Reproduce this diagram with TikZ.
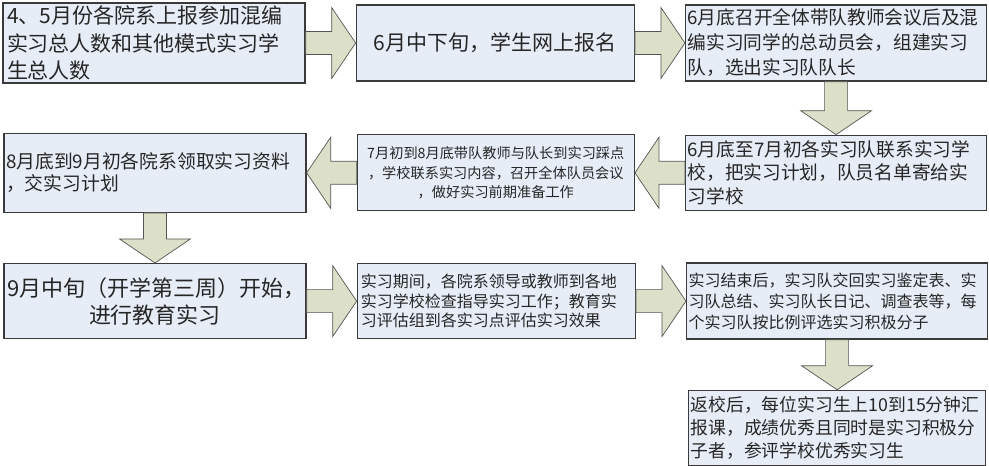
\documentclass[tikz,border=0pt]{standalone}
\usepackage{fontspec}
\setmainfont{Noto Sans CJK SC}
\usepackage{xcolor}
\usepackage{tikz}
\usetikzlibrary{calc,positioning}
\definecolor{boxfill}{HTML}{E7EDF7}
\definecolor{boxline}{HTML}{3A3A3A}
\definecolor{arrowfill}{HTML}{DDE0C8}
\definecolor{arrowline}{HTML}{555555}
\tikzset{
  stepbox/.style={
    draw=boxline,
    fill=boxfill,
    line width=1.3pt,
    align=left,
    inner xsep=3pt,
    inner ysep=0pt,
    text=black!85
  },
  centerbox/.style={
    stepbox,
    align=center
  },
  blockarrow/.style={
    draw=arrowline,
    fill=arrowfill,
    line width=0.7pt,
    line join=miter,
    to path={
      ($(\tikztostart)!11.5pt!90:(\tikztotarget)$)
      -- ($(\tikztotarget)!24pt!(\tikztostart)!11.5pt!-90:(\tikztostart)$)
      -- ($(\tikztotarget)!24pt!(\tikztostart)!35.5pt!-90:(\tikztostart)$)
      -- (\tikztotarget)
      -- ($(\tikztotarget)!24pt!(\tikztostart)!35.5pt!90:(\tikztostart)$)
      -- ($(\tikztotarget)!24pt!(\tikztostart)!11.5pt!90:(\tikztostart)$)
      -- ($(\tikztostart)!11.5pt!-90:(\tikztotarget)$)
      -- cycle
    }
  }
}

\begin{document}
\begin{tikzpicture}[x=1pt, y=-1pt, node distance=50pt]
    \useasboundingbox (0,0) rectangle (989,466);

    % first row
    \node[stepbox, text width=294pt, minimum height=80pt, inner xsep=4pt,
          font=\fontsize{21}{27.5}\selectfont] (report) at (154,43) {
        4、5月份各院系上报参加混编\\
        实习总人数和其他模式实习学\\
        生总人数
    };
    \node[centerbox, text width=272pt, minimum height=76pt,
          font=\fontsize{21}{27}\selectfont, right=of report] (signup) {
        6月中下旬，学生网上报名
    };
    \node[stepbox, text width=297pt, minimum height=76pt, inner xsep=2pt,
          font=\fontsize{18.7}{25}\selectfont, right=of signup] (mobilize) {
        6月底召开全体带队教师会议后及混\\
        编实习同学的总动员会，组建实习\\
        队，选出实习队队长
    };

    % second row
    \node[stepbox, text width=297pt, minimum height=75pt, inner xsep=2pt,
          font=\fontsize{18.7}{23.5}\selectfont, below=53pt of mobilize] (contact) {
        6月底至7月初各实习队联系实习学\\
        校，把实习计划，队员名单寄给实\\
        习学校
    };
    \node[centerbox, text width=271pt, minimum height=76pt,
          font=\fontsize{14.2}{19.5}\selectfont, left=of contact] (visit) {
        7月初到8月底带队教师与队长到实习踩点\\
        ，学校联系实习内容，召开全体队员会议\\
        ，做好实习前期准备工作
    };
    \node[stepbox, text width=298pt, minimum height=79pt, inner xsep=2pt,
          font=\fontsize{18.8}{22}\selectfont, left=of visit] (materials) {
        8月底到9月初各院系领取实习资料\\
        ，交实习计划
    };

    % third row
    \node[centerbox, text width=296pt, minimum height=75pt,
          font=\fontsize{22}{27}\selectfont, below=of materials] (start) {
        9月中旬（开学第三周）开始，\\
        进行教育实习
    };
    \node[stepbox, text width=271pt, minimum height=75pt, inner xsep=3.5pt,
          font=\fontsize{16}{19.5}\selectfont, right=of start] (inspect) {
        实习期间，各院系领导或教师到各地\\
        实习学校检查指导实习工作；教育实\\
        习评估组到各实习点评估实习效果
    };
    \node[stepbox, text width=297pt, minimum height=76pt, inner xsep=2pt,
          font=\fontsize{16}{21}\selectfont, right=of inspect] (summary) {
        实习结束后，实习队交回实习鉴定表、实\\
        习队总结、实习队长日记、调查表等，每\\
        个实习队按比例评选实习积极分子
    };
    \node[stepbox, text width=293pt, minimum height=75pt, inner xsep=2pt,
          font=\fontsize{17.8}{23}\selectfont, below=of summary] (review) {
        返校后，每位实习生上10到15分钟汇\\
        报课，成绩优秀且同时是实习积极分\\
        子者，参评学校优秀实习生
    };

    \draw[blockarrow] (report.east) to (signup.west);
    \draw[blockarrow] (signup.east) to (mobilize.west);
    \draw[blockarrow] (mobilize.south) to (contact.north);
    \draw[blockarrow] (contact.west) to (visit.east);
    \draw[blockarrow] (visit.west) to (materials.east);
    \draw[blockarrow] (materials.south) to (start.north);
    \draw[blockarrow] (start.east) to (inspect.west);
    \draw[blockarrow] (inspect.east) to (summary.west);
    \draw[blockarrow] (summary.south) to (review.north);
\end{tikzpicture}
\end{document}
